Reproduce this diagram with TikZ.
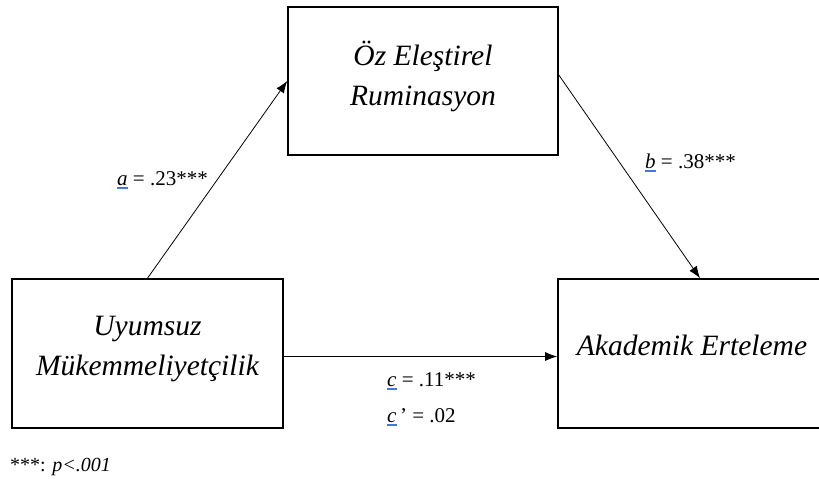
\documentclass[tikz,border=0pt]{standalone}
\usepackage{fontspec}
\setmainfont{Liberation Serif}
\usepackage{xcolor}
\usetikzlibrary{positioning,arrows.meta}
\definecolor{linkblue}{RGB}{70,120,220}
\newcommand{\ulvar}[1]{{\setbox0\hbox{\textit{#1}}\rlap{\color{linkblue}\rule[-3.5pt]{\wd0}{1.5pt}}\box0}}
\tikzset{
block/.style = {draw, line width=1.6pt, fill=white, rectangle, align=center,
  font=\fontsize{29.5}{40}\selectfont\itshape,
  execute at end node={\rule[-16pt]{0pt}{0pt}}},
coef/.style = {font=\fontsize{21}{24}\selectfont, inner sep=0pt},
path/.style = {-{Latex[length=12pt,width=9pt]}, line width=0.8pt}
}

\begin{document}
\begin{tikzpicture}[x=1pt,y=1pt]
    \useasboundingbox (0,0) rectangle (819,-479);

    \node [block, minimum width=270, minimum height=148] (ruminasyon) at (423,-81)
      {Öz Eleştirel\\Ruminasyon};
    \node [block, minimum width=271, minimum height=149] (uyumsuz) at (147.5,-353.5)
      {Uyumsuz\\Mükemmeliyetçilik};
    \node [block, minimum width=268, minimum height=149] (erteleme) at (692,-353.5)
      {Akademik Erteleme};

    \draw[path] (uyumsuz.north) -- (ruminasyon.west);
    \draw[path] ([yshift=6]ruminasyon.east) -- ([xshift=8]erteleme.north);
    \draw[path] ([yshift=-3]uyumsuz.east) -- ([yshift=-3]erteleme.west);

    \node [coef, anchor=base west] (acoef) at (117,-185) {\ulvar{a} = .23***};
    \node [coef, anchor=base west] (bcoef) at (645,-168) {\ulvar{b} = .38***};
    \node [coef, anchor=base west] (ccoef) at (387,-386) {\ulvar{c} = .11***};
    \node [coef, anchor=base west] (cpcoef) at (387,-422) {\ulvar{c}\,’ = .02};

    \node [coef, font=\fontsize{20}{22}\selectfont, anchor=base west] (note) at (10,-471)
      {***: \textit{p<.001}};
\end{tikzpicture}
\end{document}
